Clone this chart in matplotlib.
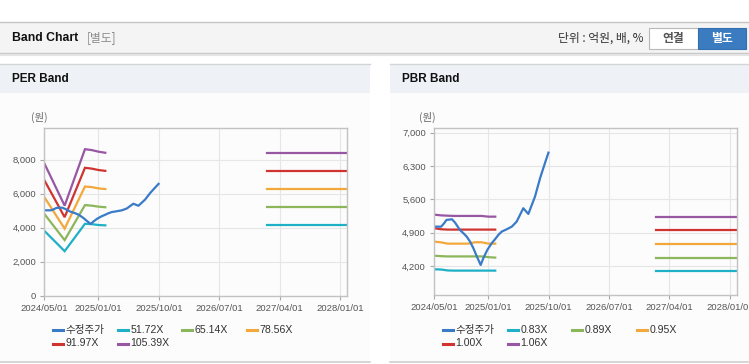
import numpy as np
import matplotlib
matplotlib.use("Agg")
import matplotlib.pyplot as plt
from matplotlib.patches import Rectangle
from matplotlib.lines import Line2D

plt.rcParams['font.family'] = ['Liberation Sans', 'Noto Sans CJK KR', 'DejaVu Sans']

# ---------------- data ----------------
price_dates = np.array([
    '2024-05-01', '2024-06-01', '2024-06-15', '2024-06-25', '2024-07-20', '2024-08-03',
    '2024-08-25', '2024-09-10', '2024-09-25', '2024-10-10', '2024-10-25', '2024-11-10',
    '2024-11-27', '2024-12-09', '2024-12-27', '2025-01-16', '2025-01-31', '2025-02-15',
    '2025-03-02', '2025-03-25', '2025-04-17', '2025-05-09', '2025-05-24', '2025-06-08',
    '2025-07-01', '2025-07-31', '2025-08-23', '2025-09-14', '2025-09-30'], dtype='datetime64[D]')
price_values = [5025, 5025, 5100, 5166, 5180, 5110,
                4956, 4886, 4815, 4710, 4572, 4395,
                4221, 4362, 4536, 4677, 4760, 4851,
                4920, 4970, 5025, 5130, 5271, 5412,
                5292, 5655, 6041, 6357, 6579]

per_labels = ['51.72X', '65.14X', '78.56X', '91.97X', '105.39X']
per_hist_dates = np.array(['2024-05-01', '2024-08-01', '2024-11-01', '2024-12-01',
                           '2025-01-01', '2025-02-01'], dtype='datetime64[D]')
per_hist = [
    [3820, 2620, 4230, 4210, 4160, 4140],
    [4815, 3270, 5330, 5300, 5240, 5205],
    [5805, 3945, 6425, 6390, 6315, 6275],
    [6800, 4620, 7525, 7480, 7395, 7345],
    [7790, 5300, 8620, 8570, 8475, 8410],
]
fut_dates = np.array(['2027-02-01', '2028-02-01'], dtype='datetime64[D]')
per_future = [4140, 5205, 6275, 7345, 8410]

pbr_labels = ['0.83X', '0.89X', '0.95X', '1.00X', '1.06X']
pbr_hist_dates = np.array(['2024-05-01', '2024-06-01', '2024-07-01', '2024-08-01', '2024-09-01',
                           '2024-10-01', '2024-11-01', '2024-12-01', '2025-01-01', '2025-02-01'],
                          dtype='datetime64[D]')
pbr_hist = [
    [4130, 4125, 4105, 4102, 4102, 4102, 4102, 4102, 4102, 4102],
    [4415, 4405, 4400, 4400, 4400, 4400, 4400, 4400, 4385, 4375],
    [4710, 4695, 4668, 4668, 4668, 4668, 4697, 4697, 4668, 4668],
    [4992, 4970, 4963, 4963, 4963, 4963, 4963, 4963, 4963, 4963],
    [5277, 5262, 5255, 5250, 5250, 5250, 5250, 5250, 5235, 5235],
]
pbr_future = [4102, 4375, 4668, 4963, 5235]

x_ticks = np.array(['2024-05-01', '2025-01-01', '2025-10-01', '2026-07-01',
                    '2027-04-01', '2028-01-01'], dtype='datetime64[D]')
x_tick_labels = ['2024/05/01', '2025/01/01', '2025/10/01', '2026/07/01', '2027/04/01', '2028/01/01']
per_yticks = [0, 2000, 4000, 6000, 8000]
pbr_yticks = [4200, 4900, 5600, 6300, 7000]

price_label = '수정주가'
price_color = '#3a7bc8'
band_colors = ['#1fb0c6', '#8cb65a', '#f3a83b', '#cf3431', '#9857a2']

# ---------------- figure ----------------
W, H = 749, 364
fig = plt.figure(figsize=(W / 100, H / 100), dpi=100)
fig.patch.set_facecolor('white')


def box(x0, y0, x1, y1):
    return [x0 / W, 1 - y1 / H, (x1 - x0) / W, (y1 - y0) / H]


def rect(x0, y0, x1, y1, fc, ec='none', lw=0, z=0):
    r = Rectangle((x0 / W, 1 - y1 / H), (x1 - x0) / W, (y1 - y0) / H,
                  transform=fig.transFigure, facecolor=fc, edgecolor=ec, linewidth=lw, zorder=z)
    fig.add_artist(r)


def hline(x0, x1, y, color, lw=1.0):
    fig.add_artist(Line2D([x0 / W, x1 / W], [1 - y / H, 1 - y / H], transform=fig.transFigure,
                          color=color, linewidth=lw))


def ftext(x, y, s, **kw):
    fig.text(x / W, 1 - y / H, s, **kw)


# top header bar
rect(0, 22, W, 53, '#f4f4f4')
hline(0, W, 22, '#c4c4c4', 1.0)
hline(0, W, 53, '#c8c8c8', 1.0)
hline(0, W, 54.5, '#e4e4e4', 1.5)
ftext(12, 38, 'Band Chart', fontsize=8.8, fontweight='bold', color='#111', va='center')
ftext(87, 38, '[별도]', fontsize=8.5, color='#8a8a8a', va='center',
      family=['Noto Sans CJK KR'])
ftext(643, 38, '단위 : 억원, 배, %', fontsize=8.5, color='#333', va='center', ha='right',
      family=['Noto Sans CJK KR', 'Liberation Sans'])
rect(648.5, 28, 697.5, 49, 'white', ec='#b8b8b8', lw=0.8, z=2)
ftext(673, 38.5, '연결', fontsize=8.5, color='#555', va='center', ha='center', fontweight='bold',
      family=['Noto Sans CJK KR'])
rect(698, 28, 746, 49, '#3b7cc0', ec='#3470b0', lw=0.8, z=2)
ftext(722, 38.5, '별도', fontsize=8.5, color='white', va='center', ha='center', fontweight='bold',
      family=['Noto Sans CJK KR'])

# panels
for (px0, px1, title) in [(0, 370, 'PER Band'), (390, W, 'PBR Band')]:
    rect(px0, 64, px1, 93, '#eef2f7')
    hline(px0, px1, 64.3, '#d4d4d4', 1.0)
    rect(px0, 93, px1, 362, '#fcfcfc')
    hline(px0, px1, 362, '#cfcfcf', 1.2)
    ftext(px0 + 12, 79.5, title, fontsize=8.5, fontweight='bold', color='#111', va='center')


def style_axes(ax, yticks, ylim):
    ax.set_facecolor('#fcfcfc')
    ax.set_xlim(np.datetime64('2024-05-01'), np.datetime64('2028-02-01'))
    ax.set_ylim(*ylim)
    ax.set_xticks(x_ticks)
    ax.set_xticklabels(x_tick_labels)
    ax.set_yticks(yticks)
    ax.set_yticklabels([f'{v:,}' for v in yticks])
    ax.grid(True, color='#e6e6e6', linewidth=0.8)
    ax.set_axisbelow(True)
    for s in ax.spines.values():
        s.set_color('#c2c2c2')
        s.set_linewidth(1.0)
    ax.tick_params(length=3, width=0.8, color='#a8a8a8', labelsize=6.8, labelcolor='#555', pad=3)


def legend(x0, labels):
    entries = [(price_label, price_color)] + list(zip(labels, band_colors))
    for i, (lab, col) in enumerate(entries):
        r, c = divmod(i, 4)
        lx = x0 + c * 64.7
        ly = 330 + r * 13.5
        fig.add_artist(Line2D([lx / W, (lx + 10) / W], [1 - ly / H, 1 - ly / H],
                              transform=fig.transFigure, color=col, linewidth=2.2))
        ftext(lx + 12.5, ly, lab, fontsize=7.6, color='#333', va='center')


# PER chart
ax1 = fig.add_axes(box(44.3, 128.3, 347.3, 295.7))
style_axes(ax1, per_yticks, (0, 9850))
for vals, fut, col in zip(per_hist, per_future, band_colors):
    ax1.plot(per_hist_dates, vals, color=col, linewidth=1.6, solid_joinstyle='miter')
    ax1.plot(fut_dates, [fut, fut], color=col, linewidth=1.6)
ax1.plot(price_dates, price_values, color=price_color, linewidth=1.6)
ftext(39, 117.5, '(원)', fontsize=7.5, color='#666', ha='center', va='center',
      family=['Noto Sans CJK KR'])
legend(53, per_labels)

# PBR chart
ax2 = fig.add_axes(box(434.3, 128.3, 737, 295))
style_axes(ax2, pbr_yticks, (3590, 7090))
for vals, fut, col in zip(pbr_hist, pbr_future, band_colors):
    ax2.plot(pbr_hist_dates, vals, color=col, linewidth=1.6)
    ax2.plot(fut_dates, [fut, fut], color=col, linewidth=1.6)
ax2.plot(price_dates, price_values, color=price_color, linewidth=1.6)
ftext(427, 117.5, '(원)', fontsize=7.5, color='#666', ha='center', va='center',
      family=['Noto Sans CJK KR'])
legend(443, pbr_labels)

fig.savefig('out.png', dpi=100, facecolor='white')
